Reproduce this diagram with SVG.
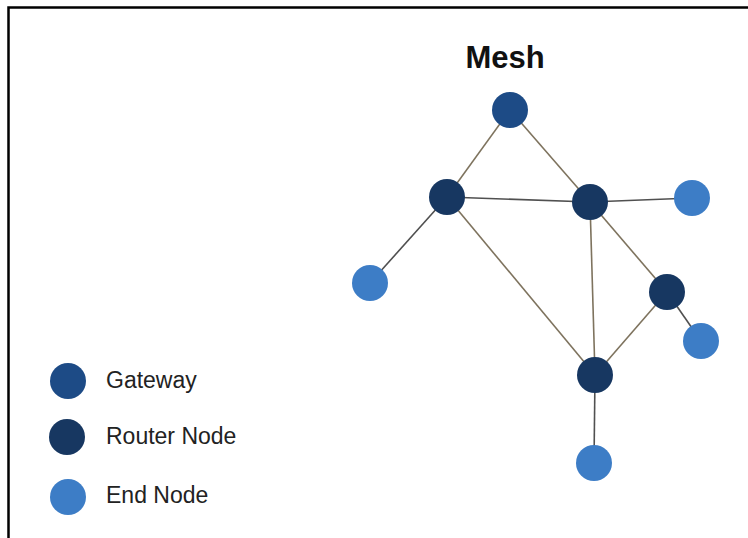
<svg xmlns="http://www.w3.org/2000/svg" width="748" height="538" viewBox="0 0 748 538">
<style>
.gw{fill:#1d4b86}
.rt{fill:#173761}
.en{fill:#3d7dc6}
.lk{stroke:#7e735e;stroke-width:1.6;fill:none}
.dk{stroke:#505050}
.lbl{font-family:"Liberation Sans",Arial,sans-serif;font-size:23px;fill:#222}
</style>
<rect x="0" y="0" width="748" height="538" fill="#ffffff"/>
<path d="M8.5 538V7.5H748" stroke="#000" stroke-width="2.5" fill="none"/>
<text x="505" y="68" text-anchor="middle" font-family="Liberation Sans,Arial,sans-serif" font-weight="bold" font-size="31" fill="#111">Mesh</text>
<g id="connectors">
<line class="lk" x1="510" y1="110" x2="447" y2="197"/>
<line class="lk" x1="510" y1="110" x2="590" y2="202"/>
<line class="lk dk" x1="447" y1="197" x2="590" y2="202"/>
<line class="lk dk" x1="590" y1="202" x2="692" y2="198"/>
<line class="lk dk" x1="447" y1="197" x2="370" y2="283"/>
<line class="lk" x1="447" y1="197" x2="595" y2="375"/>
<line class="lk" x1="590" y1="202" x2="595" y2="375"/>
<line class="lk" x1="590" y1="202" x2="667" y2="292"/>
<line class="lk dk" x1="667" y1="292" x2="701" y2="341"/>
<line class="lk" x1="667" y1="292" x2="595" y2="375"/>
<line class="lk dk" x1="595" y1="375" x2="594" y2="463"/>
</g>
<g id="gateway"><circle class="gw" cx="510" cy="110" r="18"/></g>
<g id="router-left"><circle class="rt" cx="447" cy="197" r="18"/></g>
<g id="router-center"><circle class="rt" cx="590" cy="202" r="18"/></g>
<g id="end-right"><circle class="en" cx="692" cy="198" r="18"/></g>
<g id="end-left"><circle class="en" cx="370" cy="283" r="18"/></g>
<g id="router-right"><circle class="rt" cx="667" cy="292" r="18"/></g>
<g id="end-lower-right"><circle class="en" cx="701" cy="341" r="18"/></g>
<g id="router-bottom"><circle class="rt" cx="595" cy="375" r="18"/></g>
<g id="end-bottom"><circle class="en" cx="594" cy="463" r="18"/></g>
<g id="legend-gateway"><circle class="gw" cx="68" cy="381" r="18"/><text class="lbl" x="106" y="388">Gateway</text></g>
<g id="legend-router"><circle class="rt" cx="67" cy="437" r="18"/><text class="lbl" x="106" y="444">Router Node</text></g>
<g id="legend-end"><circle class="en" cx="68" cy="497" r="18"/><text class="lbl" x="106" y="503">End Node</text></g>
</svg>
